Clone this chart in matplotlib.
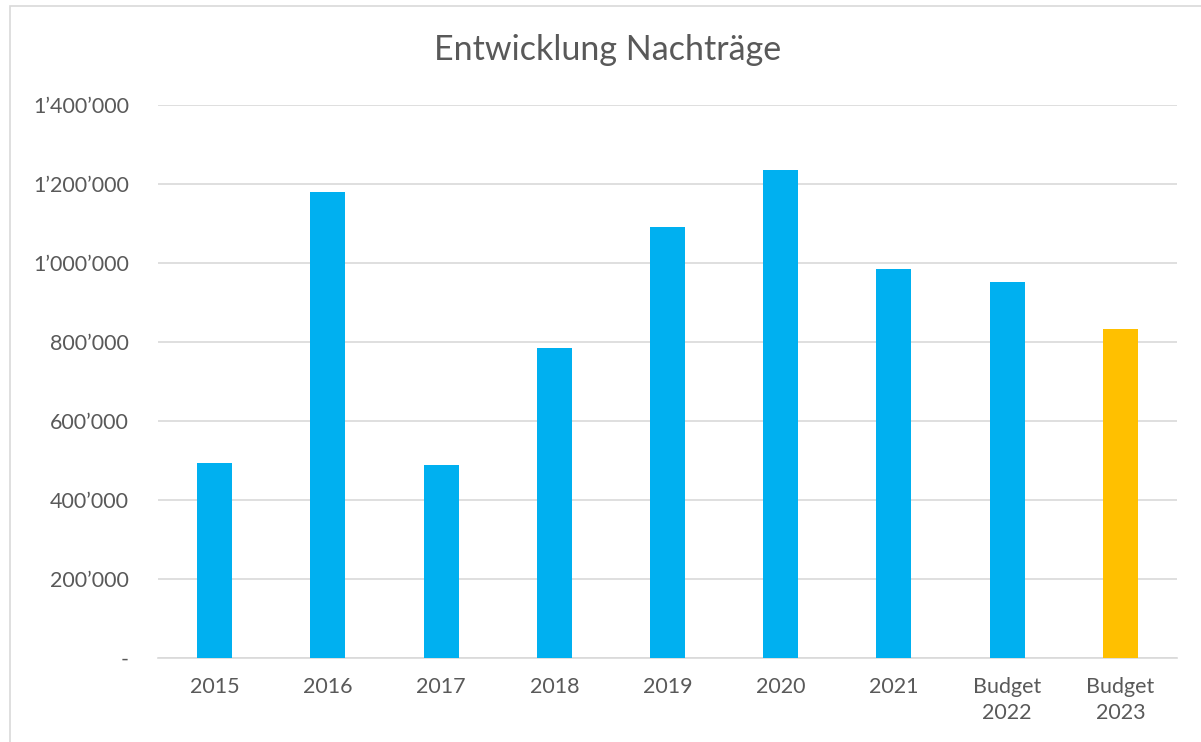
import matplotlib
matplotlib.use("Agg")
import matplotlib.pyplot as plt
from matplotlib.patches import Rectangle
from matplotlib.ticker import FuncFormatter

categories = ["2015", "2016", "2017", "2018", "2019", "2020", "2021", "Budget\n2022", "Budget\n2023"]
values = [494000, 1180000, 489000, 785000, 1091000, 1235000, 985000, 952000, 833000]
colors = ["#00B0F0"] * 8 + ["#FFC000"]
yticks = [0, 200000, 400000, 600000, 800000, 1000000, 1200000, 1400000]

plt.rcParams['font.family'] = ['Lato', 'DejaVu Sans']
W, H = 1201, 742
fig = plt.figure(figsize=(W / 100, H / 100), dpi=100)
ax = fig.add_axes([158 / W, 1 - 658 / H, (1177 - 158) / W, (658 - 105) / H])

x = range(len(categories))
ax.bar(x, values, width=0.31, color=colors, zorder=3)
ax.set_xlim(-0.5, len(categories) - 0.5)
ax.set_ylim(0, 1400000)
ax.set_yticks(yticks)

def fmt(v, pos):
    if v == 0:
        return "-"
    return f"{int(v):,}".replace(",", "\u2019")

ax.yaxis.set_major_formatter(FuncFormatter(fmt))
ax.set_xticks(list(x))
ax.set_xticklabels(categories)
ax.grid(axis="y", color="#D9D9D9", linewidth=1.2, zorder=0)
for s in ["top", "right", "left"]:
    ax.spines[s].set_visible(False)
ax.spines["bottom"].set_color("#D9D9D9")
ax.spines["bottom"].set_linewidth(1.2)
ax.tick_params(axis="both", length=0, labelsize=15.5, colors="#595959")
ax.tick_params(axis="y", pad=21)
ax.tick_params(axis="x", pad=14)
for lab in ax.get_xticklabels():
    lab.set_linespacing(1.35)

fig.text(608 / W, 1 - 50 / H, "Entwicklung Nachträge", ha="center", va="center",
         fontsize=24.5, color="#595959")

fig.patches.append(Rectangle((10 / W, -0.05), 1.1, 1 - 6 / H + 0.05, transform=fig.transFigure,
                             fill=False, edgecolor="#D9D9D9", linewidth=1.2))

fig.savefig("out.png", dpi=100, facecolor="white")
